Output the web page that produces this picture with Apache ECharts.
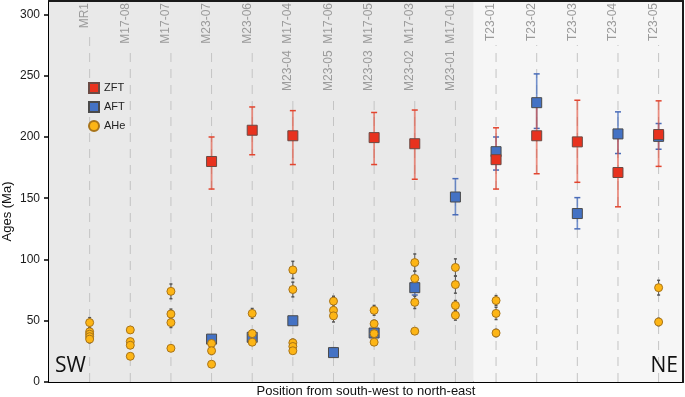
<!DOCTYPE html>
<html lang="en" style="height: 100%">

<head>
  <meta charset="utf-8">
  <style>
    html,
    body {
      margin: 0;
      padding: 0;
      width: 100%;
      height: 100%;
      overflow: hidden;
      background: #fff;
    }
  </style>
</head>

<body>
  <div id="container" style="height: 100%;width: 100%;"></div>

  <script type="text/javascript" src="https://cdn.jsdelivr.net/npm/echarts@6/dist/echarts.min.js"></script>
  <script type="text/javascript">

    // sample names along the profile (rotated labels at the top)
    const siteLabels = [
      'MR1', 'M17-08', 'M17-07', 'M23-07', 'M23-06',
      'M23-04  M17-04', 'M23-05  M17-06', 'M23-03  M17-05', 'M23-02  M17-03', 'M23-01  M17-01',
      'T23-01', 'T23-02', 'T23-03', 'T23-04', 'T23-05'
    ];
    const yTicks = [0, 50, 100, 150, 200, 250, 300];

    // zircon fission track
    const zftPos = [3, 4, 5, 7, 8, 10, 11, 12, 13, 14];
    const zftAge = [180, 205.5, 201, 199.5, 194.5, 181.5, 201, 196, 171, 202];
    const zftLow = [157.5, 185.5, 177.5, 177.5, 165.5, 157.5, 170, 163, 143, 176];
    const zftHigh = [200, 224.5, 221.5, 220, 222, 207.5, 231, 230, 199, 229.5];

    // apatite fission track
    const aftPos = [3, 4, 5, 6, 7, 8, 9, 10, 11, 12, 13, 14];
    const aftAge = [35, 36.5, 50, 24, 40, 77, 151, 188, 228, 137.5, 202.5, 200.5];
    const aftLow = [32, 33, 47, 21, 37, 71, 136.5, 173, 207, 125, 186.5, 190];
    const aftHigh = [38, 40, 53, 28, 43, 83, 166, 200, 251.5, 150.5, 220.5, 211];

    // apatite (U-Th)/He single grains
    const ahePos = [0, 0, 0, 0, 0, 1, 1, 1, 1, 2, 2, 2, 2, 3, 3, 3, 4, 4, 4, 5, 5, 5, 5, 5,
      6, 6, 6, 7, 7, 7, 7, 8, 8, 8, 8, 9, 9, 9, 9, 10, 10, 10, 14, 14];
    const aheAge = [48.5, 41, 39, 37, 35, 42.5, 33, 30, 21, 74, 55.5, 48.5, 27.5, 31.5, 25.5, 14.5,
      56, 39.5, 32.5, 91.5, 75.5, 32, 29, 25.5, 66, 58.5, 54, 58.5, 47.5, 39.5, 32.5,
      97.5, 84.5, 65, 41.5, 93.5, 79.5, 62.5, 54.5, 66.5, 56, 40, 77, 49];
    const aheErr = [4, 3, 3, 3, 3, 2, 2, 2, 1.5, 6, 4, 4, 2, 3, 3, 1.5, 4, 3, 2.5, 7, 6, 3, 2, 2,
      4, 3, 5, 4, 3, 3, 2, 7, 6, 5, 2, 7, 7, 4, 4, 4, 5, 3, 6, 3];

    const font = 'Liberation Sans, Arial, sans-serif';
    const leftBg = '#e9e9e9';
    const rightBg = '#f6f6f6';
    const splitAt = 9.45; // boundary between the two shaded panels

    const dom = document.getElementById('container');
    const myChart = echarts.init(dom, null, { renderer: 'canvas' });

    const xRange = { type: 'value', min: -1, max: 14.6, interval: 1 };
    const yRange = { type: 'value', min: 0, max: 311, interval: 50 };

    function errorBar(lineColor, capColor, width, capHalf) {
      return function (params, api) {
        const x = api.value(0);
        const lo = api.coord([x, api.value(1)]);
        const hi = api.coord([x, api.value(2)]);
        return {
          type: 'group',
          children: [
            { type: 'line', shape: { x1: lo[0], y1: lo[1], x2: hi[0], y2: hi[1] }, style: { stroke: lineColor, lineWidth: width } },
            { type: 'line', shape: { x1: hi[0] - capHalf, y1: hi[1], x2: hi[0] + capHalf, y2: hi[1] }, style: { stroke: capColor, lineWidth: 1.5 } },
            { type: 'line', shape: { x1: lo[0] - capHalf, y1: lo[1], x2: lo[0] + capHalf, y2: lo[1] }, style: { stroke: capColor, lineWidth: 1.5 } }
          ]
        };
      };
    }

    // dashed guide line + rotated sample name for each site
    function siteRender(params, api) {
      const i = api.value(0);
      const bottom = api.coord([i, yRange.min]);
      const top = api.coord([i, yRange.max]);
      return {
        type: 'group',
        children: [
          {
            type: 'line',
            shape: { x1: bottom[0], y1: bottom[1], x2: top[0], y2: top[1] },
            style: { stroke: '#c4c4c4', lineWidth: 1, lineDash: [9, 7] }
          },
          {
            type: 'text',
            x: top[0] + 4,
            y: top[1] + 2,
            rotation: Math.PI / 2,
            style: {
              text: siteLabels[params.dataIndex],
              fontSize: 12,
              fontFamily: font,
              fill: '#9b9b9b',
              align: 'right',
              verticalAlign: 'bottom',
              backgroundColor: i < splitAt ? leftBg : rightBg,
              padding: [1, 0, 3, 4]
            }
          }
        ]
      };
    }

    const zftBars = zftPos.map((p, i) => [p, zftLow[i], zftHigh[i]]);
    const aftBars = aftPos.map((p, i) => [p, aftLow[i], aftHigh[i]]);
    const aheBars = ahePos.map((p, i) => [p, aheAge[i] - aheErr[i], aheAge[i] + aheErr[i]]);

    const option = {
      animation: false,
      textStyle: { fontFamily: font },
      grid: {
        left: 49, right: 2, top: 1, bottom: 15,
        containLabel: false,
        outerBoundsMode: 'none'
      },
      legend: {
        orient: 'vertical',
        left: 83, top: 77,
        itemWidth: 10, itemHeight: 10, itemGap: 7,
        textStyle: { fontSize: 11, color: '#222', fontFamily: font },
        data: ['ZFT', 'AFT', 'AHe']
      },
      xAxis: [
        Object.assign({}, xRange, {
          position: 'bottom',
          axisLine: { show: true, onZero: false, lineStyle: { color: '#000', width: 2 } },
          axisTick: { show: false },
          axisLabel: { show: false },
          splitLine: { show: false },
          name: 'Position from south-west to north-east',
          nameLocation: 'middle',
          nameGap: 3,
          nameTextStyle: { fontSize: 13, color: '#111', fontFamily: font, verticalAlign: 'top' }
        }),
        Object.assign({}, xRange, {
          position: 'top',
          z: 3,
          axisLine: { show: true, onZero: false, lineStyle: { color: '#1a1a1a', width: 2 } },
          axisTick: { show: false },
          axisLabel: { show: false },
          splitLine: { show: false }
        })
      ],
      yAxis: [
        Object.assign({}, yRange, {
          position: 'left',
          axisLine: { show: true, onZero: false, lineStyle: { color: '#000', width: 2 } },
          axisTick: { show: true, length: 5, lineStyle: { color: '#000', width: 1.5 }, customValues: yTicks },
          axisLabel: { fontSize: 12, color: '#1a1a1a', margin: 9, customValues: yTicks },
          splitLine: { show: false },
          name: 'Ages (Ma)',
          nameLocation: 'middle',
          nameGap: 35,
          nameMoveOverlap: false,
          nameTextStyle: { fontSize: 13, color: '#111', fontFamily: font, padding: [0, 40, 0, 0] }
        }),
        Object.assign({}, yRange, {
          position: 'right',
          z: 3,
          axisLine: { show: true, onZero: false, lineStyle: { color: '#1a1a1a', width: 2 } },
          axisTick: { show: false },
          axisLabel: { show: false },
          splitLine: { show: false }
        })
      ],
      graphic: [
        { type: 'text', z: 50, left: 55, top: 356, style: { text: 'SW', fontSize: 21, fontFamily: 'Liberation Sans Narrow, Open Sans, sans-serif', fill: '#111' } },
        { type: 'text', z: 50, right: 7, top: 356, style: { text: 'NE', fontSize: 21, fontFamily: 'Liberation Sans Narrow, Open Sans, sans-serif', fill: '#111' } }
      ],
      series: [
        {
          // background panels
          type: 'line',
          z: -1,
          data: [],
          silent: true,
          markArea: {
            silent: true,
            data: [
              [{ xAxis: xRange.min, itemStyle: { color: leftBg } }, { xAxis: splitAt }],
              [{ xAxis: splitAt, itemStyle: { color: rightBg } }, { xAxis: xRange.max }]
            ]
          }
        },
        {
          type: 'custom',
          renderItem: siteRender,
          encode: { x: 0, y: 1 },
          data: siteLabels.map((s, i) => [i, 0]),
          silent: true
        },
        {
          type: 'custom',
          renderItem: errorBar('rgba(70,110,190,0.75)', '#4a6cb8', 1.6, 3),
          encode: { x: 0, y: [1, 2] },
          data: aftBars,
          silent: true
        },
        {
          type: 'custom',
          renderItem: errorBar('rgba(226,72,50,0.6)', '#e2452f', 1.8, 3),
          encode: { x: 0, y: [1, 2] },
          data: zftBars,
          silent: true
        },
        {
          name: 'AFT',
          type: 'scatter',
          symbol: 'rect',
          symbolSize: 10,
          itemStyle: { color: '#4472c4', borderColor: '#4a4a4a', borderWidth: 1, opacity: 1 },
          data: aftPos.map((p, i) => [p, aftAge[i]])
        },
        {
          name: 'ZFT',
          type: 'scatter',
          symbol: 'rect',
          symbolSize: 10,
          itemStyle: { color: '#e8321e', borderColor: '#6a4a44', borderWidth: 1, opacity: 1 },
          data: zftPos.map((p, i) => [p, zftAge[i]])
        },
        {
          type: 'custom',
          renderItem: errorBar('#555', '#555', 1, 1.5),
          encode: { x: 0, y: [1, 2] },
          data: aheBars,
          silent: true
        },
        {
          name: 'AHe',
          type: 'scatter',
          symbol: 'circle',
          symbolSize: 8,
          itemStyle: { color: '#fdb515', borderColor: '#a8741a', borderWidth: 1, opacity: 1 },
          data: ahePos.map((p, i) => [p, aheAge[i]])
        }
      ]
    };

    myChart.setOption(option);
    window.addEventListener('resize', myChart.resize);

  </script>
</body>

</html>
